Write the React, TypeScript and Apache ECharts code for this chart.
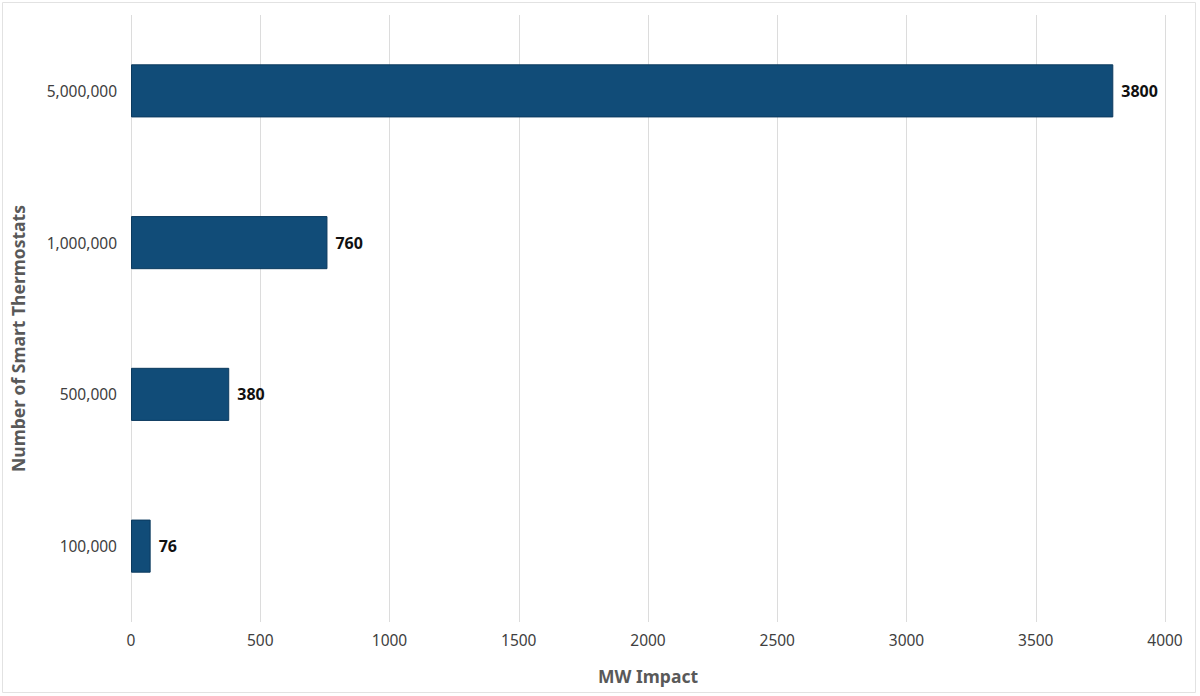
import { useEffect, useRef } from 'react'
import * as echarts from 'echarts'

const categories = ['100,000', '500,000', '1,000,000', '5,000,000']
const impactValues = [76, 380, 760, 3800]
const xTicks = { min: 0, max: 4000, interval: 500 }

const FONT = '"Noto Sans", "Open Sans", sans-serif'

export default function App() {
  const chartRef = useRef<HTMLDivElement | null>(null)

  useEffect(() => {
    document.body.style.margin = '0'
    if (!chartRef.current) {
      return
    }

    const chart = echarts.init(chartRef.current, null, { renderer: 'svg' })
    chart.setOption({
      animation: false,
      backgroundColor: '#ffffff',
      textStyle: { fontFamily: FONT },
      grid: { left: 131, right: 35, top: 15, bottom: 74 },
      graphic: [
        {
          type: 'rect',
          shape: { x: 2.5, y: 2.5, width: 1193, height: 690 },
          style: { fill: 'none', stroke: '#e2e2e2', lineWidth: 1 },
          silent: true,
        },
      ],
      xAxis: {
        type: 'value',
        min: xTicks.min,
        max: xTicks.max,
        interval: xTicks.interval,
        name: 'MW Impact',
        nameLocation: 'middle',
        nameGap: 45,
        nameTextStyle: { fontFamily: FONT, fontSize: 17.5, fontWeight: 'bold', color: '#595959' },
        axisLine: { show: false },
        axisTick: { show: false },
        axisLabel: {
          fontFamily: FONT,
          fontSize: 15.5,
          color: '#404040',
          margin: 10,
          formatter: (v: number) => String(v),
        },
        splitLine: { lineStyle: { color: '#dcdcdc', width: 1 } },
      },
      yAxis: {
        type: 'category',
        data: categories,
        name: 'Number of Smart Thermostats',
        nameLocation: 'middle',
        nameGap: 104,
        nameRotate: 90,
        nameTextStyle: {
          fontFamily: FONT,
          fontSize: 17.5,
          fontWeight: 'bold',
          color: '#595959',
          padding: [0, 40, 0, 0],
        },
        axisLine: { show: false },
        axisTick: { show: false },
        axisLabel: { fontFamily: FONT, fontSize: 15.5, color: '#404040', margin: 14 },
        splitLine: { show: false },
      },
      series: [
        {
          type: 'bar',
          data: impactValues,
          barWidth: '35%',
          itemStyle: { color: '#114c78', borderColor: '#0c3a5e', borderWidth: 1 },
          label: {
            show: true,
            position: 'right',
            distance: 8,
            fontFamily: FONT,
            fontSize: 16,
            fontWeight: 'bold',
            color: '#111111',
          },
        },
      ],
    })

    const resize = () => chart.resize()
    window.addEventListener('resize', resize)
    return () => {
      window.removeEventListener('resize', resize)
      chart.dispose()
    }
  }, [])

  return <div ref={chartRef} style={{ width: 1200, height: 696 }} />
}
